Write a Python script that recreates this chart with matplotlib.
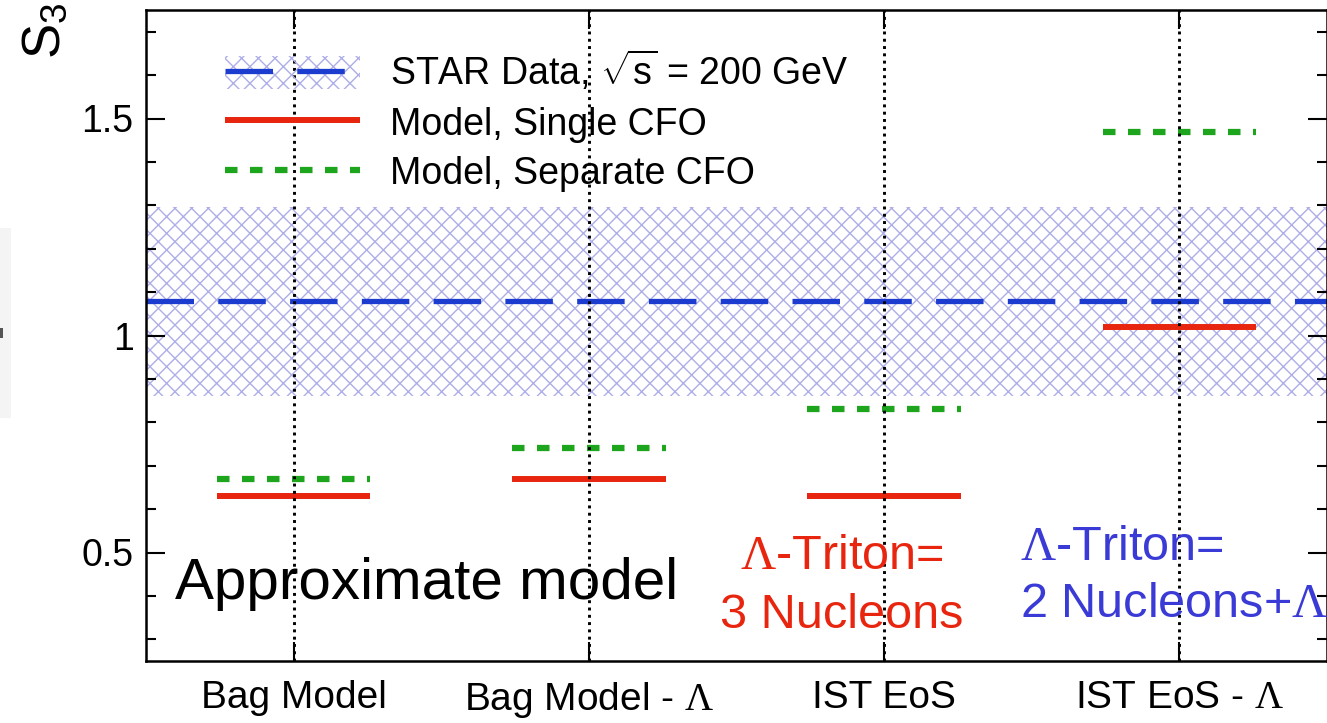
import numpy as np
import matplotlib
matplotlib.use('Agg')
from matplotlib import pyplot as plt
from matplotlib.lines import Line2D
from matplotlib.patches import Patch, Rectangle

plt.rcParams['font.family'] = ['Liberation Sans', 'DejaVu Sans']
plt.rcParams['mathtext.fontset'] = 'custom'
plt.rcParams['mathtext.rm'] = 'Liberation Serif'
plt.rcParams['mathtext.sf'] = 'Liberation Sans'
plt.rcParams['mathtext.it'] = 'Liberation Serif:italic'
plt.rcParams['hatch.linewidth'] = 1.0

# data
categories = ['Bag Model', r'Bag Model - $\Lambda$', 'IST EoS', r'IST EoS - $\Lambda$']
single_cfo = [0.63, 0.67, 0.63, 1.02]
separate_cfo = [0.67, 0.74, 0.83, 1.47]
star_mean = 1.08
star_low = 0.86
star_high = 1.295
yticks = [0.5, 1, 1.5]
ytick_labels = ['0.5', '1', '1.5']

blue = '#1c3ccf'
red = '#e8260f'
green = '#1ea51e'
band = '#aeaee8'

fig = plt.figure(figsize=(13.27, 7.23), dpi=100)
ax = fig.add_axes([146/1327, 62/723, 1181/1327, 651/723])

x = np.arange(len(categories))
half = 0.26

ax.axhspan(star_low, star_high, facecolor='none', edgecolor=band, hatch='xx', linewidth=0, zorder=1)
ax.axhline(star_mean, color=blue, lw=3.8, ls=(0, (9.0, 4.6)), zorder=3)
ax.hlines(single_cfo, x - half, x + half, color=red, lw=4.3, zorder=4)
ax.hlines(separate_cfo, x - half, x + half, color=green, lw=4.5, linestyles=(0, (2, 2)), zorder=4)
for xi in x:
    ax.axvline(xi, color='black', lw=2.1, ls=(0, (1, 1.5)), zorder=5)

ax.set_xlim(-0.5, 3.5)
ax.set_ylim(0.25, 1.75)
ax.set_xticks(x)
ax.set_xticklabels(categories, fontsize=28)
ax.set_yticks(yticks)
ax.set_yticklabels(ytick_labels, fontsize=27)
ax.set_yticks(np.arange(0.3, 1.75, 0.1), minor=True)
ax.tick_params(axis='both', which='major', direction='in', length=14, width=1.5,
               top=True, right=True, zorder=6)
ax.tick_params(axis='y', which='minor', direction='in', length=7, width=1.5, right=True)
ax.tick_params(axis='x', which='major', pad=14)
ax.tick_params(axis='y', which='major', pad=9)
for s in ax.spines.values():
    s.set_linewidth(1.8)
    s.set_zorder(6)

h_star = (Patch(facecolor='none', edgecolor=band, hatch='xx', linewidth=0),
          Line2D([], [], color=blue, lw=3.8, ls=(0, (9.0, 4.6))))
h_single = Line2D([], [], color=red, lw=4.3, solid_capstyle='butt')
h_sep = Line2D([], [], color=green, lw=4.5, ls=(0, (2, 2)))
ax.legend([h_star, h_single, h_sep],
          [r'STAR Data, $\sqrt{\mathsf{s}}$ = 200 GeV', 'Model, Single CFO', 'Model, Separate CFO'],
          loc='upper left', bbox_to_anchor=(0.067, 0.94), frameon=False, fontsize=27,
          borderpad=0, borderaxespad=0, handlelength=3.6, handleheight=0.95,
          handletextpad=0.8, labelspacing=0.33)

ax.text(-0.402, 0.394, 'Approximate model', fontsize=42, color='black', va='baseline', zorder=7)
ax.text(1.856, 0.325, r'$\Lambda$-Triton=' + '\n' + '3 Nucleons', fontsize=35, color=red,
        ha='center', va='baseline', linespacing=1.4, zorder=7)
ax.text(2.46, 0.3525, r'$\Lambda$-Triton=' + '\n' + r'2 Nucleons+$\Lambda$', fontsize=35,
        color='#3a3ad6', ha='left', va='baseline', linespacing=1.32, zorder=7)

fig.text(46/1327, 1 - 31/723, r'$\mathsf{S}_\mathsf{3}$', fontsize=38, rotation=90,
         ha='center', va='center')

# leftover strip of the slide at the left edge
fig.patches.append(Rectangle((0, 1 - 418/723), 11/1327, 190/723, transform=fig.transFigure,
                             facecolor='#f4f4f4', edgecolor='none'))
fig.patches.append(Rectangle((0, 1 - 338/723), 3/1327, 10/723, transform=fig.transFigure,
                             facecolor='#555555', edgecolor='none'))

fig.savefig('out.png', dpi=100)
